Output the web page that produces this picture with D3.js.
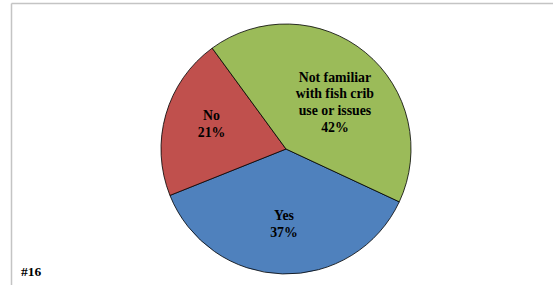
<!DOCTYPE html>
<html>
<head>
<meta charset="utf-8">
<script src="https://cdn.jsdelivr.net/npm/d3@7"></script>
<style>
  body { margin: 0; background: #fff; }
  svg { display: block; }
</style>
</head>
<body>
<svg id="chart" width="553" height="285"></svg>
<script>
// chart data
const categories = ["Yes", "No", "Not familiar with fish crib use or issues"];
const values = [37, 21, 42];
const labelLines = [["Yes", "37%"], ["No", "21%"], ["Not familiar", "with fish crib", "use or issues", "42%"]];
const colors = ["#4f81bd", "#c0504d", "#9bbb59"];

const svg = d3.select("#chart");
const width = 553, height = 285;

// frame (only top and left visible in the crop)
svg.append("line").attr("x1", 11.5).attr("y1", 3.5).attr("x2", width).attr("y2", 3.5)
  .attr("stroke", "#c4c4c4").attr("stroke-width", 1.5);
svg.append("line").attr("x1", 11.5).attr("y1", 3.5).attr("x2", 11.5).attr("y2", height)
  .attr("stroke", "#c4c4c4").attr("stroke-width", 1.5);

const cx = 286, cy = 149, r = 125;
const startDeg = 115;

const pie = d3.pie()
  .sort(null)
  .value(d => d)
  .startAngle(startDeg * Math.PI / 180)
  .endAngle((startDeg + 360) * Math.PI / 180);

const arcs = pie(values);
const arc = d3.arc().innerRadius(0).outerRadius(r);

const g = svg.append("g").attr("transform", `translate(${cx},${cy})`);

g.selectAll("path")
  .data(arcs)
  .enter().append("path")
  .attr("d", arc)
  .attr("fill", (d, i) => colors[i])
  .attr("stroke", "#000")
  .attr("stroke-width", 0.8)
  .attr("stroke-linejoin", "round");

// best-fit style label placement: radius factor + small angle nudge per slice
const labelRadius = [0.595, 0.63, 0.545];
const labelNudge = [0, 3, 6.5];
const lineH = 16.6;

arcs.forEach((d, i) => {
  const mid = (d.startAngle + d.endAngle) / 2 + labelNudge[i] * Math.PI / 180;
  const [lx, ly] = d3.pointRadial(mid, r * labelRadius[i]);
  const lines = labelLines[i];
  const t = g.append("text")
    .attr("text-anchor", "middle")
    .attr("font-family", "'Liberation Serif', 'Times New Roman', serif")
    .attr("font-weight", "bold")
    .attr("font-size", "13.8px")
    .attr("fill", "#000");
  lines.forEach((s, k) => {
    t.append("tspan")
      .attr("x", lx)
      .attr("y", ly + (k - (lines.length - 1) / 2) * lineH + 5)
      .text(s);
  });
});

svg.append("text")
  .attr("x", 21).attr("y", 276)
  .attr("font-family", "'Liberation Serif', 'Times New Roman', serif")
  .attr("font-weight", "bold")
  .attr("font-size", "13.5px")
  .attr("fill", "#000")
  .text("#16");
</script>
</body>
</html>
